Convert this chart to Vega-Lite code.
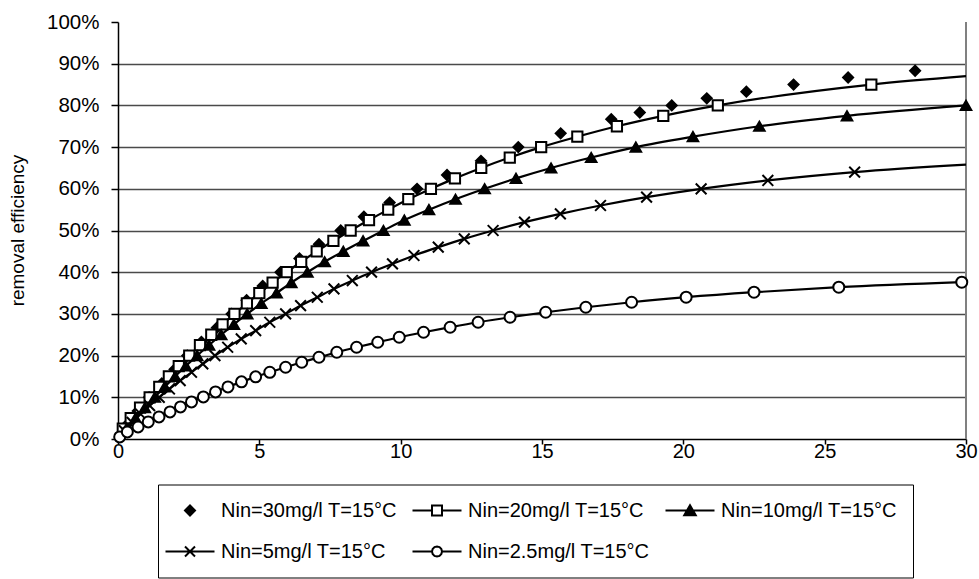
{
  "$schema": "https://vega.github.io/schema/vega-lite/v6.json",
  "width": 848,
  "height": 417,
  "autosize": {"type": "none"},
  "padding": {"left": 118, "top": 22, "right": 13, "bottom": 140},
  "background": "white",
  "config": {"view": {"stroke": null}, "font": "Liberation Sans"},
  "data": {"values": [
    {"series": "Nin=30mg/l T=15°C", "time": 0.3, "eff": 3.3},
    {"series": "Nin=30mg/l T=15°C", "time": 0.7, "eff": 6.7},
    {"series": "Nin=30mg/l T=15°C", "time": 1.1, "eff": 10.0},
    {"series": "Nin=30mg/l T=15°C", "time": 1.55, "eff": 13.3},
    {"series": "Nin=30mg/l T=15°C", "time": 2.0, "eff": 16.7},
    {"series": "Nin=30mg/l T=15°C", "time": 2.45, "eff": 20.0},
    {"series": "Nin=30mg/l T=15°C", "time": 2.95, "eff": 23.3},
    {"series": "Nin=30mg/l T=15°C", "time": 3.5, "eff": 26.7},
    {"series": "Nin=30mg/l T=15°C", "time": 4.02, "eff": 30.0},
    {"series": "Nin=30mg/l T=15°C", "time": 4.55, "eff": 33.3},
    {"series": "Nin=30mg/l T=15°C", "time": 5.12, "eff": 36.7},
    {"series": "Nin=30mg/l T=15°C", "time": 5.75, "eff": 40.0},
    {"series": "Nin=30mg/l T=15°C", "time": 6.42, "eff": 43.3},
    {"series": "Nin=30mg/l T=15°C", "time": 7.11, "eff": 46.7},
    {"series": "Nin=30mg/l T=15°C", "time": 7.88, "eff": 50.0},
    {"series": "Nin=30mg/l T=15°C", "time": 8.7, "eff": 53.3},
    {"series": "Nin=30mg/l T=15°C", "time": 9.61, "eff": 56.7},
    {"series": "Nin=30mg/l T=15°C", "time": 10.58, "eff": 60.0},
    {"series": "Nin=30mg/l T=15°C", "time": 11.64, "eff": 63.3},
    {"series": "Nin=30mg/l T=15°C", "time": 12.84, "eff": 66.7},
    {"series": "Nin=30mg/l T=15°C", "time": 14.16, "eff": 70.0},
    {"series": "Nin=30mg/l T=15°C", "time": 15.66, "eff": 73.3},
    {"series": "Nin=30mg/l T=15°C", "time": 17.45, "eff": 76.7},
    {"series": "Nin=30mg/l T=15°C", "time": 18.46, "eff": 78.3},
    {"series": "Nin=30mg/l T=15°C", "time": 19.59, "eff": 80.0},
    {"series": "Nin=30mg/l T=15°C", "time": 20.83, "eff": 81.7},
    {"series": "Nin=30mg/l T=15°C", "time": 22.23, "eff": 83.3},
    {"series": "Nin=30mg/l T=15°C", "time": 23.9, "eff": 85.0},
    {"series": "Nin=30mg/l T=15°C", "time": 25.83, "eff": 86.7},
    {"series": "Nin=30mg/l T=15°C", "time": 28.2, "eff": 88.3},

    {"series": "Nin=20mg/l T=15°C", "time": 0.17, "eff": 2.5},
    {"series": "Nin=20mg/l T=15°C", "time": 0.45, "eff": 5.0},
    {"series": "Nin=20mg/l T=15°C", "time": 0.78, "eff": 7.5},
    {"series": "Nin=20mg/l T=15°C", "time": 1.12, "eff": 10.0},
    {"series": "Nin=20mg/l T=15°C", "time": 1.46, "eff": 12.5},
    {"series": "Nin=20mg/l T=15°C", "time": 1.8, "eff": 15.0},
    {"series": "Nin=20mg/l T=15°C", "time": 2.15, "eff": 17.5},
    {"series": "Nin=20mg/l T=15°C", "time": 2.52, "eff": 20.0},
    {"series": "Nin=20mg/l T=15°C", "time": 2.9, "eff": 22.5},
    {"series": "Nin=20mg/l T=15°C", "time": 3.3, "eff": 25.0},
    {"series": "Nin=20mg/l T=15°C", "time": 3.7, "eff": 27.5},
    {"series": "Nin=20mg/l T=15°C", "time": 4.12, "eff": 30.0},
    {"series": "Nin=20mg/l T=15°C", "time": 4.56, "eff": 32.5},
    {"series": "Nin=20mg/l T=15°C", "time": 5.0, "eff": 35.0},
    {"series": "Nin=20mg/l T=15°C", "time": 5.47, "eff": 37.5},
    {"series": "Nin=20mg/l T=15°C", "time": 5.97, "eff": 40.0},
    {"series": "Nin=20mg/l T=15°C", "time": 6.48, "eff": 42.5},
    {"series": "Nin=20mg/l T=15°C", "time": 7.03, "eff": 45.0},
    {"series": "Nin=20mg/l T=15°C", "time": 7.62, "eff": 47.5},
    {"series": "Nin=20mg/l T=15°C", "time": 8.23, "eff": 50.0},
    {"series": "Nin=20mg/l T=15°C", "time": 8.88, "eff": 52.5},
    {"series": "Nin=20mg/l T=15°C", "time": 9.56, "eff": 55.0},
    {"series": "Nin=20mg/l T=15°C", "time": 10.27, "eff": 57.5},
    {"series": "Nin=20mg/l T=15°C", "time": 11.07, "eff": 60.0},
    {"series": "Nin=20mg/l T=15°C", "time": 11.92, "eff": 62.5},
    {"series": "Nin=20mg/l T=15°C", "time": 12.85, "eff": 65.0},
    {"series": "Nin=20mg/l T=15°C", "time": 13.86, "eff": 67.5},
    {"series": "Nin=20mg/l T=15°C", "time": 14.97, "eff": 70.0},
    {"series": "Nin=20mg/l T=15°C", "time": 16.25, "eff": 72.5},
    {"series": "Nin=20mg/l T=15°C", "time": 17.65, "eff": 75.0},
    {"series": "Nin=20mg/l T=15°C", "time": 19.29, "eff": 77.5},
    {"series": "Nin=20mg/l T=15°C", "time": 21.22, "eff": 80.0},
    {"series": "Nin=20mg/l T=15°C", "time": 26.65, "eff": 85.0},
    {"series": "Nin=20mg/l T=15°C", "time": 30.0, "eff": 87.0, "kind": "tail"},

    {"series": "Nin=10mg/l T=15°C", "time": 0.3, "eff": 2.5},
    {"series": "Nin=10mg/l T=15°C", "time": 0.62, "eff": 5.0},
    {"series": "Nin=10mg/l T=15°C", "time": 0.95, "eff": 7.5},
    {"series": "Nin=10mg/l T=15°C", "time": 1.3, "eff": 10.0},
    {"series": "Nin=10mg/l T=15°C", "time": 1.65, "eff": 12.5},
    {"series": "Nin=10mg/l T=15°C", "time": 2.02, "eff": 15.0},
    {"series": "Nin=10mg/l T=15°C", "time": 2.4, "eff": 17.5},
    {"series": "Nin=10mg/l T=15°C", "time": 2.8, "eff": 20.0},
    {"series": "Nin=10mg/l T=15°C", "time": 3.22, "eff": 22.5},
    {"series": "Nin=10mg/l T=15°C", "time": 3.65, "eff": 25.0},
    {"series": "Nin=10mg/l T=15°C", "time": 4.1, "eff": 27.5},
    {"series": "Nin=10mg/l T=15°C", "time": 4.57, "eff": 30.0},
    {"series": "Nin=10mg/l T=15°C", "time": 5.07, "eff": 32.5},
    {"series": "Nin=10mg/l T=15°C", "time": 5.61, "eff": 35.0},
    {"series": "Nin=10mg/l T=15°C", "time": 6.13, "eff": 37.5},
    {"series": "Nin=10mg/l T=15°C", "time": 6.7, "eff": 40.0},
    {"series": "Nin=10mg/l T=15°C", "time": 7.31, "eff": 42.5},
    {"series": "Nin=10mg/l T=15°C", "time": 7.97, "eff": 45.0},
    {"series": "Nin=10mg/l T=15°C", "time": 8.67, "eff": 47.5},
    {"series": "Nin=10mg/l T=15°C", "time": 9.39, "eff": 50.0},
    {"series": "Nin=10mg/l T=15°C", "time": 10.13, "eff": 52.5},
    {"series": "Nin=10mg/l T=15°C", "time": 11.0, "eff": 55.0},
    {"series": "Nin=10mg/l T=15°C", "time": 11.94, "eff": 57.5},
    {"series": "Nin=10mg/l T=15°C", "time": 12.97, "eff": 60.0},
    {"series": "Nin=10mg/l T=15°C", "time": 14.08, "eff": 62.5},
    {"series": "Nin=10mg/l T=15°C", "time": 15.32, "eff": 65.0},
    {"series": "Nin=10mg/l T=15°C", "time": 16.74, "eff": 67.5},
    {"series": "Nin=10mg/l T=15°C", "time": 18.32, "eff": 70.0},
    {"series": "Nin=10mg/l T=15°C", "time": 20.34, "eff": 72.5},
    {"series": "Nin=10mg/l T=15°C", "time": 22.69, "eff": 75.0},
    {"series": "Nin=10mg/l T=15°C", "time": 25.79, "eff": 77.5},
    {"series": "Nin=10mg/l T=15°C", "time": 30.0, "eff": 80.0},

    {"series": "Nin=5mg/l T=15°C", "time": 0.22, "eff": 2.0},
    {"series": "Nin=5mg/l T=15°C", "time": 0.5, "eff": 4.0},
    {"series": "Nin=5mg/l T=15°C", "time": 0.8, "eff": 6.0},
    {"series": "Nin=5mg/l T=15°C", "time": 1.12, "eff": 8.0},
    {"series": "Nin=5mg/l T=15°C", "time": 1.46, "eff": 10.0},
    {"series": "Nin=5mg/l T=15°C", "time": 1.82, "eff": 12.0},
    {"series": "Nin=5mg/l T=15°C", "time": 2.2, "eff": 14.0},
    {"series": "Nin=5mg/l T=15°C", "time": 2.6, "eff": 16.0},
    {"series": "Nin=5mg/l T=15°C", "time": 3.0, "eff": 18.0},
    {"series": "Nin=5mg/l T=15°C", "time": 3.43, "eff": 20.0},
    {"series": "Nin=5mg/l T=15°C", "time": 3.88, "eff": 22.0},
    {"series": "Nin=5mg/l T=15°C", "time": 4.36, "eff": 24.0},
    {"series": "Nin=5mg/l T=15°C", "time": 4.87, "eff": 26.0},
    {"series": "Nin=5mg/l T=15°C", "time": 5.37, "eff": 28.0},
    {"series": "Nin=5mg/l T=15°C", "time": 5.93, "eff": 30.0},
    {"series": "Nin=5mg/l T=15°C", "time": 6.46, "eff": 32.0},
    {"series": "Nin=5mg/l T=15°C", "time": 7.05, "eff": 34.0},
    {"series": "Nin=5mg/l T=15°C", "time": 7.64, "eff": 36.0},
    {"series": "Nin=5mg/l T=15°C", "time": 8.29, "eff": 38.0},
    {"series": "Nin=5mg/l T=15°C", "time": 8.97, "eff": 40.0},
    {"series": "Nin=5mg/l T=15°C", "time": 9.71, "eff": 42.0},
    {"series": "Nin=5mg/l T=15°C", "time": 10.47, "eff": 44.0},
    {"series": "Nin=5mg/l T=15°C", "time": 11.33, "eff": 46.0},
    {"series": "Nin=5mg/l T=15°C", "time": 12.25, "eff": 48.0},
    {"series": "Nin=5mg/l T=15°C", "time": 13.27, "eff": 50.0},
    {"series": "Nin=5mg/l T=15°C", "time": 14.38, "eff": 52.0},
    {"series": "Nin=5mg/l T=15°C", "time": 15.65, "eff": 54.0},
    {"series": "Nin=5mg/l T=15°C", "time": 17.07, "eff": 56.0},
    {"series": "Nin=5mg/l T=15°C", "time": 18.7, "eff": 58.0},
    {"series": "Nin=5mg/l T=15°C", "time": 20.63, "eff": 60.0},
    {"series": "Nin=5mg/l T=15°C", "time": 22.99, "eff": 62.0},
    {"series": "Nin=5mg/l T=15°C", "time": 26.06, "eff": 64.0},
    {"series": "Nin=5mg/l T=15°C", "time": 30.0, "eff": 65.8, "kind": "tail"},

    {"series": "Nin=2.5mg/l T=15°C", "time": 0.06, "eff": 0.5},
    {"series": "Nin=2.5mg/l T=15°C", "time": 0.33, "eff": 1.7},
    {"series": "Nin=2.5mg/l T=15°C", "time": 0.71, "eff": 2.9},
    {"series": "Nin=2.5mg/l T=15°C", "time": 1.07, "eff": 4.1},
    {"series": "Nin=2.5mg/l T=15°C", "time": 1.45, "eff": 5.3},
    {"series": "Nin=2.5mg/l T=15°C", "time": 1.84, "eff": 6.5},
    {"series": "Nin=2.5mg/l T=15°C", "time": 2.21, "eff": 7.7},
    {"series": "Nin=2.5mg/l T=15°C", "time": 2.6, "eff": 8.9},
    {"series": "Nin=2.5mg/l T=15°C", "time": 3.02, "eff": 10.1},
    {"series": "Nin=2.5mg/l T=15°C", "time": 3.45, "eff": 11.3},
    {"series": "Nin=2.5mg/l T=15°C", "time": 3.89, "eff": 12.5},
    {"series": "Nin=2.5mg/l T=15°C", "time": 4.37, "eff": 13.7},
    {"series": "Nin=2.5mg/l T=15°C", "time": 4.87, "eff": 14.9},
    {"series": "Nin=2.5mg/l T=15°C", "time": 5.37, "eff": 16.0},
    {"series": "Nin=2.5mg/l T=15°C", "time": 5.93, "eff": 17.2},
    {"series": "Nin=2.5mg/l T=15°C", "time": 6.5, "eff": 18.4},
    {"series": "Nin=2.5mg/l T=15°C", "time": 7.11, "eff": 19.6},
    {"series": "Nin=2.5mg/l T=15°C", "time": 7.74, "eff": 20.8},
    {"series": "Nin=2.5mg/l T=15°C", "time": 8.44, "eff": 22.0},
    {"series": "Nin=2.5mg/l T=15°C", "time": 9.19, "eff": 23.2},
    {"series": "Nin=2.5mg/l T=15°C", "time": 9.95, "eff": 24.4},
    {"series": "Nin=2.5mg/l T=15°C", "time": 10.81, "eff": 25.6},
    {"series": "Nin=2.5mg/l T=15°C", "time": 11.75, "eff": 26.8},
    {"series": "Nin=2.5mg/l T=15°C", "time": 12.74, "eff": 28.0},
    {"series": "Nin=2.5mg/l T=15°C", "time": 13.87, "eff": 29.2},
    {"series": "Nin=2.5mg/l T=15°C", "time": 15.13, "eff": 30.4},
    {"series": "Nin=2.5mg/l T=15°C", "time": 16.55, "eff": 31.6},
    {"series": "Nin=2.5mg/l T=15°C", "time": 18.17, "eff": 32.8},
    {"series": "Nin=2.5mg/l T=15°C", "time": 20.1, "eff": 34.0},
    {"series": "Nin=2.5mg/l T=15°C", "time": 22.5, "eff": 35.2},
    {"series": "Nin=2.5mg/l T=15°C", "time": 25.5, "eff": 36.4},
    {"series": "Nin=2.5mg/l T=15°C", "time": 29.85, "eff": 37.6}
  ]},
  "resolve": {"scale": {"shape": "independent", "fill": "independent", "size": "independent"}},
  "layer": [
    {
      "mark": {"type": "rule", "color": "#808080", "strokeWidth": 2},
      "encoding": {
        "x": {"datum": 30, "type": "quantitative", "scale": {"domain": [0, 30], "nice": false, "zero": true}}
      }
    },
    {
      "transform": [{"filter": "datum.series !== 'Nin=30mg/l T=15°C'"}],
      "mark": {"type": "line", "interpolate": "monotone", "color": "black", "strokeWidth": 2.2},
      "encoding": {
        "x": {"field": "time", "type": "quantitative"},
        "y": {"field": "eff", "type": "quantitative"},
        "detail": {"field": "series", "type": "nominal"}
      }
    },
    {
      "transform": [{"filter": "datum.kind !== 'tail'"}],
      "mark": {"type": "point", "filled": true, "stroke": "black", "strokeWidth": 2, "opacity": 1},
      "encoding": {
        "x": {
          "field": "time", "type": "quantitative",
          "scale": {"domain": [0, 30], "nice": false, "zero": true},
          "axis": {
            "title": null, "values": [0, 5, 10, 15, 20, 25, 30], "grid": false,
            "labelFontSize": 20, "labelColor": "black", "labelPadding": -3, "labelFlush": false,
            "tickSize": 5, "tickColor": "black", "tickWidth": 1.5,
            "domainColor": "black", "domainWidth": 1.5
          }
        },
        "y": {
          "field": "eff", "type": "quantitative",
          "scale": {"domain": [0, 100], "nice": false},
          "axis": {
            "title": "removal efficiency", "values": [0, 10, 20, 30, 40, 50, 60, 70, 80, 90, 100],
            "labelExpr": "datum.value + '%'",
            "labelFontSize": 20.5, "labelColor": "black", "labelPadding": 12,
            "tickSize": 7, "tickColor": "black", "tickWidth": 1.5,
            "domainColor": "black", "domainWidth": 1.5,
            "grid": true,
            "gridColor": {"condition": {"test": "datum.value >= 100 || datum.value <= 0", "value": "transparent"}, "value": "#4a4a4a"},
            "gridWidth": 1.3,
            "titleFontSize": 19, "titleFontWeight": "normal", "titleColor": "black",
            "titleX": -101, "titleY": 208, "titleBaseline": "middle", "titleAlign": "center", "titleAngle": 270
          }
        },
        "shape": {
          "field": "series", "type": "nominal",
          "scale": {
            "domain": ["Nin=30mg/l T=15°C", "Nin=20mg/l T=15°C", "Nin=10mg/l T=15°C", "Nin=5mg/l T=15°C", "Nin=2.5mg/l T=15°C"],
            "range": ["diamond", "square", "triangle-up", "M-1,-1L1,1M-1,1L1,-1", "circle"]
          },
          "legend": null
        },
        "fill": {
          "field": "series", "type": "nominal",
          "scale": {
            "domain": ["Nin=30mg/l T=15°C", "Nin=20mg/l T=15°C", "Nin=10mg/l T=15°C", "Nin=5mg/l T=15°C", "Nin=2.5mg/l T=15°C"],
            "range": ["black", "white", "black", "transparent", "white"]
          },
          "legend": null
        },
        "size": {
          "field": "series", "type": "nominal",
          "scale": {
            "domain": ["Nin=30mg/l T=15°C", "Nin=20mg/l T=15°C", "Nin=10mg/l T=15°C", "Nin=5mg/l T=15°C", "Nin=2.5mg/l T=15°C"],
            "range": [100, 121, 125, 160, 100]
          },
          "legend": null
        }
      }
    },
    {
      "transform": [{"filter": "false"}],
      "mark": {"type": "point", "filled": true, "stroke": "black", "strokeWidth": 2, "opacity": 1},
      "encoding": {
        "x": {"field": "time", "type": "quantitative"},
        "y": {"field": "eff", "type": "quantitative"},
        "fill": {
          "field": "series", "type": "nominal",
          "scale": {
            "domain": ["Nin=30mg/l T=15°C", "Nin=20mg/l T=15°C", "Nin=10mg/l T=15°C", "Nin=5mg/l T=15°C", "Nin=2.5mg/l T=15°C"],
            "range": ["black", "white", "black", "transparent", "white"]
          },
          "legend": {
            "title": null, "orient": "none", "legendX": 40, "legendY": 462.5,
            "direction": "horizontal", "columns": 3,
            "padding": 16, "strokeColor": "black", "fillColor": "white",
            "symbolSize": 100, "symbolStrokeWidth": 2, "symbolOffset": 6,
            "labelOffset": 21, "columnPadding": 11, "rowPadding": 21,
            "labelFontSize": 20, "labelColor": "black", "labelLimit": 400
          }
        },
        "shape": {
          "field": "series", "type": "nominal",
          "scale": {
            "domain": ["Nin=30mg/l T=15°C", "Nin=20mg/l T=15°C", "Nin=10mg/l T=15°C", "Nin=5mg/l T=15°C", "Nin=2.5mg/l T=15°C"],
            "range": [
              "diamond",
              "M-4.9,0L-1,0M1,0L4.9,0M-1,-1L1,-1L1,1L-1,1Z",
              "M-4.9,0L4.9,0M0,-1.05L1.15,0.95L-1.15,0.95Z",
              "M-4.9,0L4.9,0M-1,-1L1,1M-1,1L1,-1",
              "M-4.9,0L-1,0M1,0L4.9,0M1,0L0.87,0.5L0.5,0.87L0,1L-0.5,0.87L-0.87,0.5L-1,0L-0.87,-0.5L-0.5,-0.87L0,-1L0.5,-0.87L0.87,-0.5Z"
            ]
          },
          "legend": {
            "title": null, "orient": "none", "legendX": 40, "legendY": 462.5,
            "direction": "horizontal", "columns": 3,
            "padding": 16, "strokeColor": "black", "fillColor": "white",
            "symbolSize": 100, "symbolStrokeWidth": 2, "symbolOffset": 6,
            "labelOffset": 21, "columnPadding": 11, "rowPadding": 21,
            "labelFontSize": 20, "labelColor": "black", "labelLimit": 400
          }
        }
      }
    }
  ]
}
